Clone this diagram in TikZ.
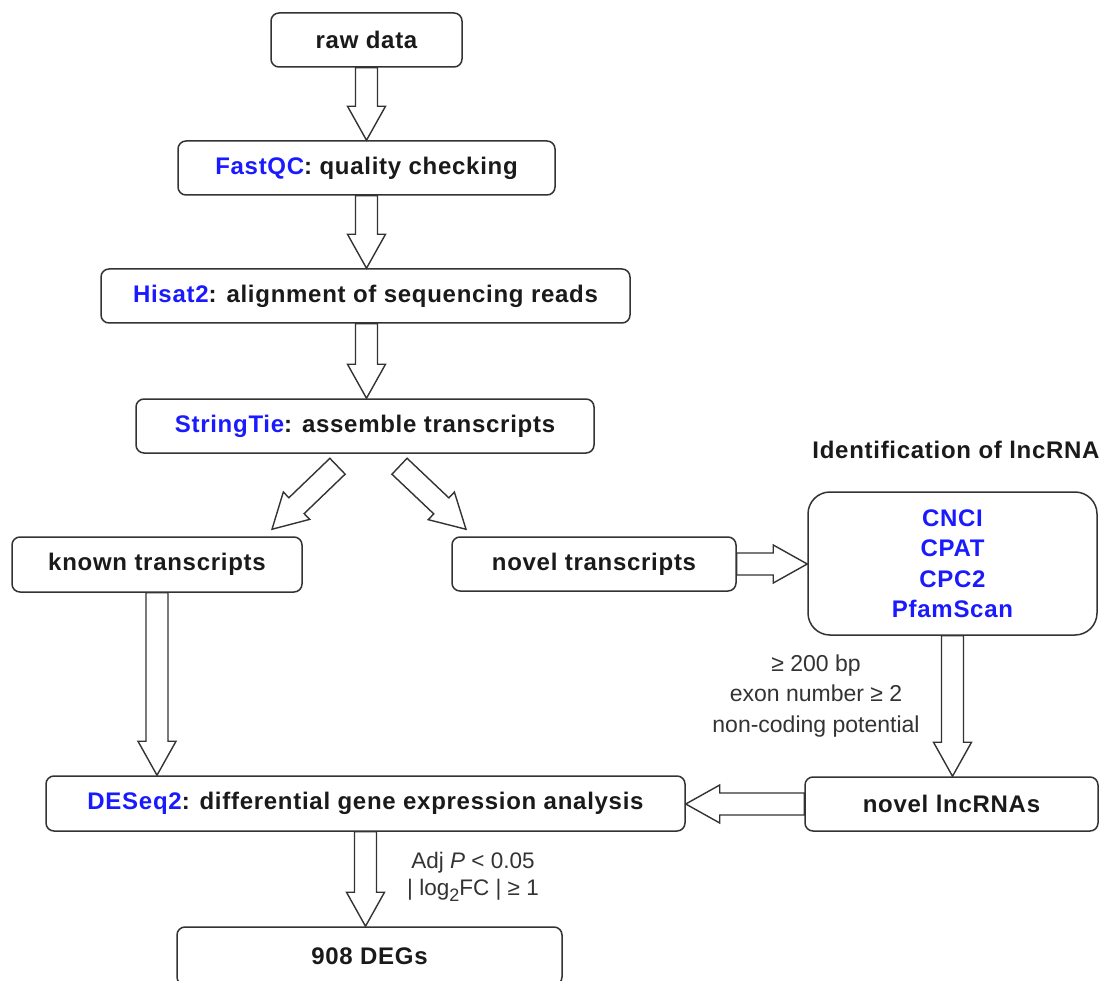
\documentclass[tikz,border=0pt]{standalone}
\usepackage{fontspec}
\setmainfont{Liberation Sans}
\newfontfamily\boxfont[LetterSpace=3]{Liberation Sans}
\usetikzlibrary{calc}
\definecolor{bord}{HTML}{333333}
\definecolor{txt}{HTML}{1A1A1A}
\definecolor{tool}{HTML}{1A1AFF}
\definecolor{labc}{HTML}{333333}
\tikzset{
 box/.style={draw=bord, line width=1.5pt, rounded corners=8pt, fill=white, inner sep=0pt,
   font=\fontsize{24}{29}\selectfont\boxfont\bfseries, text=txt},
 barrow/.style={draw=bord, line width=1.4pt, fill=white, line join=miter},
 lab/.style={font=\fontsize{23}{30.5}\selectfont, text=labc, align=center, inner sep=0pt},
}
\newcommand{\toolname}[1]{\textcolor{tool}{#1}}
\newcommand{\blockarrow}[2]{%
  \coordinate (ba-A) at (#1);
  \coordinate (ba-B) at (#2);
  \coordinate (ba-H) at ($(ba-B)!34pt!(ba-A)$);
  \draw[barrow] ($(ba-A)!11pt!90:(ba-B)$) -- ($(ba-H)!11pt!-90:(ba-A)$) -- ($(ba-H)!19pt!-90:(ba-A)$) -- (ba-B)
     -- ($(ba-H)!19pt!90:(ba-A)$) -- ($(ba-H)!11pt!90:(ba-A)$) -- ($(ba-A)!11pt!-90:(ba-B)$) -- cycle;
}
\begin{document}
\begin{tikzpicture}[x=1pt,y=-1pt]
\useasboundingbox (0,0) rectangle (1105,981);
\clip (0,0) rectangle (1105,981);
\fill[white] (0,0) rectangle (1105,981);

\node[box, minimum width=191, minimum height=54] (raw) at (366.5,40) {raw data};
\node[box, minimum width=377, minimum height=54] (fq) at (366.5,168) {\toolname{FastQC}: quality checking};
\node[box, minimum width=529, minimum height=54] (hs) at (365.5,296) {\toolname{Hisat2}: alignment of sequencing reads};
\node[box, minimum width=458, minimum height=54] (st) at (365,426) {\toolname{StringTie}: assemble transcripts};
\node[box, minimum width=290, minimum height=55] (known) at (157,564.5) {known transcripts};
\node[box, minimum width=284, minimum height=54] (novel) at (594,564) {novel transcripts};
\node[box, minimum width=289, minimum height=143, rounded corners=22pt, align=center,
      font=\fontsize{24}{30.5}\selectfont\boxfont\bfseries, text=tool] (ident) at (952.5,563.5) {CNCI\\CPAT\\CPC2\\PfamScan};
\node[box, minimum width=293, minimum height=54] (lnc) at (951.5,804) {novel lncRNAs};
\node[box, minimum width=639, minimum height=55] (deseq) at (365.5,803.5) {\toolname{DESeq2}: differential gene expression analysis};
\node[box, minimum width=385, minimum height=58] (degs) at (369.5,956) {908 DEGs};

\node[inner sep=0pt, font=\fontsize{24}{29}\selectfont\boxfont\bfseries, text=txt] (title) at (956,450) {Identification of lncRNA};
\node[lab] (critl) at (816,696) {≥ 200 bp\\exon number ≥ 2\\non-coding potential};
\node[lab, font=\fontsize{22.5}{27}\selectfont] (critd) at (473,877) {Adj \textit{P} < 0.05\\| log{\fontsize{18}{18}\selectfont\raisebox{-6pt}{2}}FC | ≥ 1};

\blockarrow{raw.south}{raw.south |- fq.north}
\blockarrow{raw.south |- fq.south}{raw.south |- hs.north}
\blockarrow{raw.south |- hs.south}{raw.south |- st.north}
\coordinate (dl1) at ($(st.south)+(-27.5,12.5)$);
\coordinate (dl2) at ($(known.north)+(115,-7)$);
\coordinate (dr1) at ($(st.south)+(34.5,12.5)$);
\coordinate (dr2) at ($(novel.north)+(-128,-7)$);
\blockarrow{dl1}{dl2}
\blockarrow{dr1}{dr2}
\blockarrow{novel.east}{novel.east -| ident.west}
\blockarrow{ident.south}{ident.south |- lnc.north}
\blockarrow{known.south}{known.south |- deseq.north}
\blockarrow{lnc.west}{lnc.west -| deseq.east}
\blockarrow{deseq.south}{deseq.south |- degs.north}
\end{tikzpicture}
\end{document}
